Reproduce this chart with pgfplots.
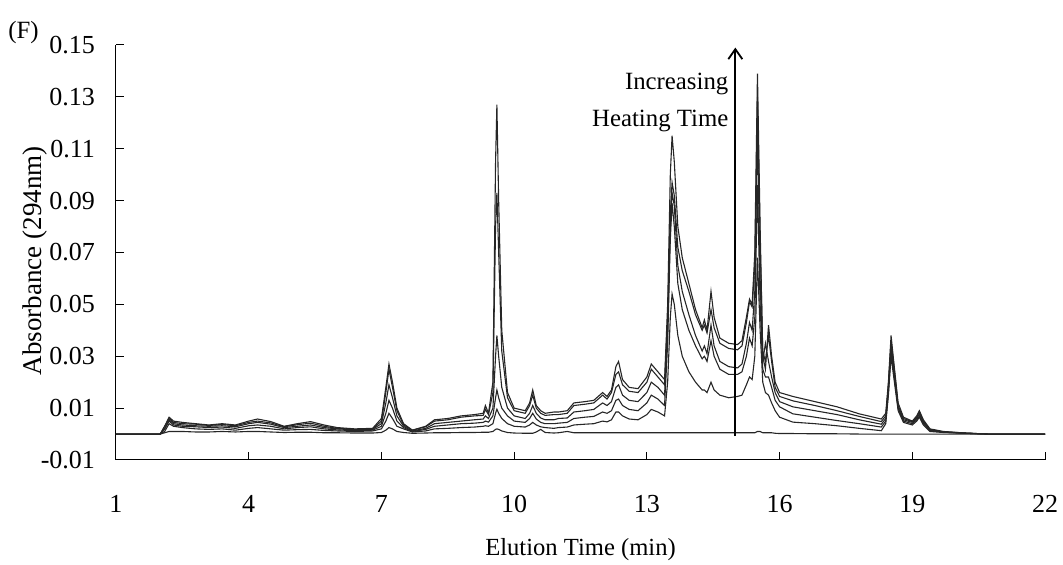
\documentclass[border=0pt]{standalone}
\usepackage{fontspec}
\setmainfont{Liberation Serif}
\usepackage{pgfplots}
\usepackage{pgfplotstable}
\pgfplotsset{compat=1.18}
\usetikzlibrary{arrows.meta}

\pgfplotstableread{
x a b c d e f
1.0 0 0 0 0 0 0
2.0 0 0 0 0 0 0
2.1 0.003 0.003 0.002 0.002 0.001 0.0005
2.2 0.0065 0.006 0.0055 0.005 0.004 0.001
2.3 0.005 0.0045 0.004 0.0035 0.003 0.001
2.5 0.0045 0.004 0.0035 0.003 0.0025 0.001
2.8 0.004 0.0038 0.0032 0.0028 0.002 0.0008
3.1 0.0035 0.0033 0.003 0.0025 0.0018 0.0008
3.4 0.004 0.0037 0.0032 0.0027 0.002 0.001
3.7 0.0035 0.0032 0.0028 0.0022 0.0015 0.0008
4.0 0.005 0.0045 0.004 0.0032 0.0022 0.001
4.2 0.0058 0.005 0.0045 0.0035 0.0025 0.001
4.5 0.0048 0.0043 0.0038 0.003 0.002 0.0008
4.8 0.003 0.0028 0.0025 0.002 0.0015 0.0006
5.1 0.004 0.0036 0.003 0.0025 0.0017 0.0007
5.4 0.0048 0.0042 0.0035 0.0028 0.0018 0.0007
5.7 0.0035 0.003 0.0025 0.002 0.0014 0.0005
6.0 0.0025 0.0022 0.002 0.0016 0.0012 0.0005
6.4 0.002 0.0018 0.0016 0.0013 0.001 0.0004
6.8 0.0022 0.002 0.0018 0.0015 0.0012 0.0004
7.0 0.006 0.005 0.004 0.003 0.002 0.0006
7.1 0.018 0.016 0.012 0.008 0.005 0.0015
7.17 0.027 0.025 0.019 0.013 0.008 0.0025
7.25 0.02 0.018 0.014 0.01 0.006 0.002
7.35 0.01 0.009 0.007 0.005 0.003 0.001
7.5 0.004 0.0035 0.003 0.0025 0.002 0.0006
7.7 0.0015 0.0015 0.0012 0.001 0.0008 0.0003
8.0 0.003 0.0028 0.0022 0.0018 0.0012 0.0004
8.2 0.0055 0.005 0.004 0.003 0.002 0.0005
8.5 0.006 0.0055 0.0045 0.0035 0.0022 0.0005
8.8 0.007 0.0065 0.005 0.004 0.0025 0.0006
9.1 0.0075 0.007 0.0055 0.0042 0.0027 0.0006
9.3 0.008 0.0072 0.0058 0.0045 0.003 0.0007
9.35 0.011 0.0095 0.007 0.005 0.0032 0.0007
9.42 0.008 0.0075 0.006 0.0046 0.003 0.0007
9.52 0.02 0.016 0.01 0.007 0.004 0.001
9.58 0.105 0.08 0.03 0.014 0.008 0.0018
9.61 0.127 0.093 0.038 0.017 0.0096 0.002
9.65 0.09 0.07 0.03 0.014 0.008 0.0018
9.72 0.04 0.032 0.018 0.01 0.006 0.0012
9.85 0.016 0.014 0.01 0.007 0.004 0.0006
10.0 0.01 0.009 0.007 0.005 0.003 0.0004
10.25 0.009 0.008 0.006 0.0045 0.0027 0.0003
10.35 0.012 0.011 0.008 0.006 0.0035 0.0003
10.42 0.017 0.015 0.011 0.008 0.0045 0.0003
10.5 0.011 0.010 0.008 0.0058 0.0035 0.0008
10.6 0.009 0.008 0.0062 0.0045 0.0028 0.0018
10.7 0.008 0.0072 0.0055 0.004 0.0025 0.0006
10.9 0.0085 0.0075 0.0055 0.004 0.0022 0.0004
11.0 0.0085 0.0075 0.006 0.0042 0.0025 0.0005
11.2 0.009 0.008 0.0062 0.0045 0.0027 0.001
11.35 0.012 0.011 0.0085 0.006 0.0035 0.0005
11.6 0.0125 0.0115 0.009 0.0065 0.0038 0.0005
11.8 0.013 0.012 0.0095 0.0068 0.004 0.0005
12.0 0.016 0.015 0.012 0.0085 0.005 0.0005
12.1 0.0145 0.0135 0.011 0.008 0.0047 0.0005
12.2 0.017 0.016 0.0125 0.009 0.0055 0.0005
12.3 0.026 0.023 0.018 0.013 0.0085 0.0005
12.36 0.028 0.024 0.019 0.0135 0.0085 0.0005
12.45 0.021 0.019 0.015 0.011 0.007 0.0005
12.6 0.018 0.0165 0.013 0.0095 0.0058 0.0005
12.8 0.0175 0.016 0.0125 0.009 0.0055 0.0005
13.0 0.022 0.02 0.016 0.012 0.0075 0.0005
13.1 0.027 0.025 0.02 0.015 0.0095 0.0005
13.25 0.024 0.022 0.018 0.0135 0.0085 0.0005
13.4 0.021 0.019 0.015 0.011 0.007 0.0005
13.47 0.05 0.045 0.04 0.035 0.02 0.0005
13.53 0.1 0.085 0.08 0.075 0.045 0.0005
13.57 0.115 0.097 0.093 0.089 0.054 0.0005
13.62 0.105 0.092 0.088 0.08 0.05 0.0005
13.7 0.08 0.072 0.065 0.058 0.038 0.0005
13.8 0.068 0.063 0.055 0.048 0.03 0.0005
13.95 0.058 0.055 0.046 0.04 0.024 0.0005
14.1 0.048 0.046 0.038 0.034 0.02 0.0005
14.25 0.041 0.04 0.032 0.029 0.017 0.0005
14.3 0.044 0.042 0.034 0.03 0.017 0.0005
14.36 0.04 0.039 0.031 0.028 0.016 0.0005
14.45 0.055 0.048 0.042 0.036 0.02 0.0005
14.52 0.045 0.041 0.034 0.03 0.017 0.0005
14.65 0.037 0.035 0.028 0.025 0.015 0.0005
14.85 0.035 0.033 0.026 0.023 0.014 0.0005
15.05 0.0345 0.0325 0.0255 0.023 0.0145 0.0005
15.15 0.036 0.034 0.027 0.024 0.015 0.0005
15.25 0.045 0.043 0.035 0.03 0.019 0.0005
15.32 0.052 0.051 0.043 0.037 0.022 0.0005
15.38 0.05 0.049 0.04 0.034 0.021 0.0005
15.44 0.07 0.065 0.055 0.045 0.03 0.0005
15.5 0.139 0.13 0.118 0.096 0.068 0.001
15.56 0.08 0.075 0.06 0.05 0.04 0.001
15.62 0.03 0.032 0.028 0.025 0.02 0.0005
15.68 0.025 0.028 0.035 0.022 0.016 0.0005
15.75 0.042 0.038 0.028 0.022 0.015 0.0005
15.82 0.03 0.028 0.022 0.018 0.012 0.0005
15.9 0.02 0.018 0.016 0.013 0.009 0.0003
16.0 0.016 0.0145 0.0125 0.0105 0.0065 0.0002
16.3 0.0145 0.0128 0.0105 0.0078 0.0046 0.0002
16.8 0.0125 0.011 0.009 0.0065 0.004 0.0001
17.3 0.0105 0.009 0.0075 0.0052 0.0032 0.0001
17.8 0.0078 0.0068 0.0055 0.004 0.0022 0
18.3 0.0058 0.0048 0.0038 0.0027 0.0013 0
18.4 0.008 0.007 0.006 0.005 0.004 0
18.46 0.02 0.019 0.018 0.016 0.015 0
18.52 0.038 0.036 0.034 0.032 0.03 0
18.58 0.028 0.027 0.025 0.024 0.022 0
18.68 0.012 0.011 0.01 0.01 0.009 0
18.8 0.0065 0.006 0.0055 0.005 0.0045 0
19.0 0.005 0.0048 0.0045 0.004 0.0035 0
19.1 0.007 0.0065 0.006 0.0055 0.005 0
19.16 0.009 0.0085 0.0078 0.007 0.0065 0
19.25 0.0055 0.005 0.0045 0.004 0.0035 0
19.4 0.002 0.0018 0.0015 0.0013 0.001 0
19.7 0.001 0.0009 0.0008 0.0007 0.0006 0
20.2 0.0004 0.0004 0.0003 0.0003 0.0003 0
20.7 0 0 0 0 0 0
22.0 0 0 0 0 0 0
}\chrom

\begin{document}
\begin{tikzpicture}
\begin{axis}[
  at={(0,0)}, anchor=south west,
  scale only axis, width=464.5pt, height=207.5pt,
  xmin=1, xmax=22, ymin=-0.01, ymax=0.15,
  axis x line*=bottom, axis y line*=left,
  axis line style={line width=0.5pt},
  xtick={1,4,7,10,13,16,19,22},
  xticklabels={1,4,7,10,13,16,19,22},
  ytick={-0.01,0.01,0.03,0.05,0.07,0.09,0.11,0.13,0.15},
  yticklabels={-0.01,0.01,0.03,0.05,0.07,0.09,0.11,0.13,0.15},
  tick align=inside, major tick length=4pt,
  tick style={line width=0.5pt, black},
  ticklabel style={font=\fontsize{13}{14}\selectfont},
  yticklabel style={xshift=-7pt},
  xticklabel style={yshift=-14pt},
  xlabel={Elution Time (min)},
  ylabel={Absorbance (294nm)},
  x label style={font=\fontsize{12.3}{14}\selectfont, at={(axis description cs:0.5,0)}, anchor=center, yshift=-45pt},
  y label style={font=\fontsize{13.5}{14}\selectfont, at={(axis description cs:-0.0872,0.48)}, anchor=center},
  clip=false,
]
\addplot[line width=0.55pt, black!85] table[x=x,y=f] \chrom;
\addplot[line width=0.55pt, black!85] table[x=x,y=e] \chrom;
\addplot[line width=0.55pt, black!85] table[x=x,y=d] \chrom;
\addplot[line width=0.55pt, black!85] table[x=x,y=c] \chrom;
\addplot[line width=0.55pt, black!85] table[x=x,y=b] \chrom;
\addplot[line width=0.55pt, black!85] table[x=x,y=a] \chrom;
\draw[line width=0.9pt, -{Straight Barb[length=5pt,width=7pt]}] (axis cs:15,-0.0008) -- (axis cs:15,0.149);
\node[anchor=east, align=right, font=\fontsize{12.4}{18.5}\selectfont, inner sep=0pt] at (axis cs:14.85,0.128) {Increasing\\Heating Time};
\end{axis}
\node[anchor=west, inner sep=0pt, font=\fontsize{12.4}{14}\selectfont] at (-54pt,213.5pt) {(F)};
\pgfresetboundingbox
\path[use as bounding box] (-58pt,-52.5pt) rectangle (473.5pt,230pt);
\end{tikzpicture}
\end{document}
